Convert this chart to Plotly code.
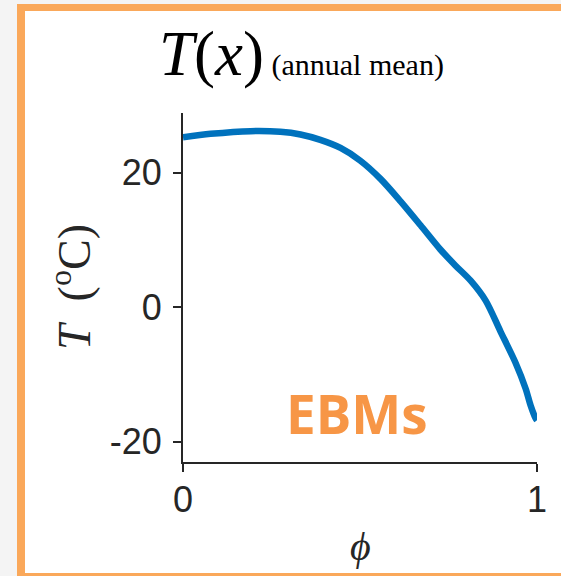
import plotly.graph_objects as go

# ---- data ----
phi = [0.000, 0.078, 0.191, 0.275, 0.332, 0.388, 0.445, 0.501, 0.558, 0.614,
       0.671, 0.727, 0.770, 0.812, 0.855, 0.897, 0.939, 0.968, 0.982, 0.996, 1.000]
temp = [25.3, 25.8, 26.2, 26.1, 25.7, 24.9, 23.7, 21.8, 19.1, 15.8,
        12.2, 8.6, 6.2, 4.0, 1.0, -3.6, -8.2, -12.1, -14.6, -16.5, -16.8]
x_ticks = [0, 1]
x_tick_labels = ["0", "1"]
y_ticks = [-20, 0, 20]
y_tick_labels = ["-20", "0", "20"]

W, H = 561, 576
L, R, T, B = 183, 24, 113, 114
PW, PH = W - L - R, H - T - B


def px(x):
    return (x - L) / PW


def py(y):
    return (H - B - y) / PH


axis_col = "#262626"
fig = go.Figure()
fig.add_trace(go.Scatter(x=phi, y=temp, mode="lines",
                         line=dict(color="#0072BD", width=6.5, shape="spline", smoothing=0.8),
                         showlegend=False, hoverinfo="skip"))

fig.update_layout(
    width=W, height=H,
    margin=dict(l=L, r=R, t=T, b=B, pad=0),
    paper_bgcolor="#f4f4f4",
    plot_bgcolor="rgba(0,0,0,0)",
    showlegend=False,
    xaxis=dict(range=[0, 1], tickvals=x_ticks, ticktext=x_tick_labels,
               showgrid=False, zeroline=False, showline=True, linecolor=axis_col,
               linewidth=2, ticks="outside", ticklen=8, tickwidth=2, tickcolor=axis_col,
               ticklabelstandoff=-3,
               tickfont=dict(family="Liberation Sans, Arial", size=36, color=axis_col)),
    yaxis=dict(range=[-23, 28.9], tickvals=y_ticks, ticktext=y_tick_labels,
               showgrid=False, zeroline=False, showline=True, linecolor=axis_col,
               linewidth=2, ticks="outside", ticklen=8, tickwidth=2, tickcolor=axis_col,
               ticklabelstandoff=4,
               tickfont=dict(family="Liberation Sans, Arial", size=36, color=axis_col)),
    shapes=[
        dict(type="rect", xref="paper", yref="paper", layer="below",
             x0=px(17), x1=px(600), y0=py(4), y1=py(600),
             fillcolor="#FAA85A", line=dict(width=0)),
        dict(type="rect", xref="paper", yref="paper", layer="below",
             x0=px(25), x1=px(600), y0=py(11), y1=py(573),
             fillcolor="white", line=dict(width=0)),
    ],
    annotations=[
        dict(xref="paper", yref="paper", x=px(157), y=py(54), xanchor="left", yanchor="middle",
             showarrow=False,
             text="<i>T</i>(<i>x</i>)<span style='font-size:30px'> (annual mean)</span>",
             font=dict(family="Liberation Serif, Times New Roman", size=63, color="black")),
        dict(xref="paper", yref="paper", x=px(71), y=py(287), xanchor="center", yanchor="middle",
             showarrow=False, textangle=-90,
             text="<i>T</i>  (<sup>o</sup>C)",
             font=dict(family="Liberation Serif, Times New Roman", size=46, color=axis_col)),
        dict(xref="paper", yref="paper", x=px(360), y=py(546), xanchor="center", yanchor="middle",
             showarrow=False, text="<i>ϕ</i>",
             font=dict(family="Liberation Serif, DejaVu Serif, Times New Roman", size=40, color=axis_col)),
        dict(xref="paper", yref="paper", x=px(357), y=py(413), xanchor="center", yanchor="middle",
             showarrow=False, text="<b>EBMs</b>",
             font=dict(family="Open Sans", size=53, color="#F79646")),
    ],
)

fig.write_html("out.html")
